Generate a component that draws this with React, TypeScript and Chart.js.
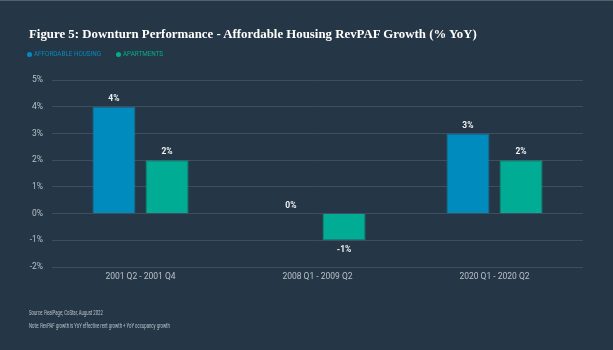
import React, { useEffect, useRef } from "react";
import { Chart, registerables } from "chart.js";

Chart.register(...registerables);

const categories = ["2001 Q2 - 2001 Q4", "2008 Q1 - 2009 Q2", "2020 Q1 - 2020 Q2"];
const affordableHousing = [4, 0, 3];
const apartments = [2, -1, 2];
const seriesNames = ["AFFORDABLE HOUSING", "APARTMENTS"];
const seriesColors = ["#008bbe", "#00ad94"];
const yTicks = [5, 4, 3, 2, 1, 0, -1, -2];

const BG = "#253746";

const valueLabels = {
  id: "valueLabels",
  afterDatasetsDraw(chart: any) {
    const ctx = chart.ctx;
    ctx.save();
    ctx.font = "bold 8.5px Roboto, 'Noto Sans', sans-serif";
    ctx.fillStyle = "#eef1f4";
    ctx.textAlign = "center";
    ctx.textBaseline = "middle";
    chart.data.datasets.forEach((ds: any, i: number) => {
      const meta = chart.getDatasetMeta(i);
      meta.data.forEach((bar: any, j: number) => {
        const v = ds.data[j];
        const y = v < 0 ? bar.y + 10 : bar.y - 8;
        ctx.fillText(v + "%", bar.x, y);
      });
    });
    ctx.restore();
  },
};

export default function App() {
  const ref = useRef<HTMLCanvasElement>(null);
  useEffect(() => {
    document.body.style.margin = "0";
    const chart = new Chart(ref.current!, {
      type: "bar",
      data: {
        labels: categories,
        datasets: [
          {
            label: seriesNames[0],
            data: affordableHousing,
            backgroundColor: seriesColors[0],
            borderColor: "#1d6f90",
            borderWidth: 1,
            categoryPercentage: 0.6,
            barPercentage: 0.81,
          },
          {
            label: seriesNames[1],
            data: apartments,
            backgroundColor: seriesColors[1],
            borderColor: "#158a7c",
            borderWidth: 1,
            categoryPercentage: 0.6,
            barPercentage: 0.81,
          },
        ],
      },
      options: {
        animation: false,
        responsive: false,
        layout: { padding: { top: 80, left: 0, right: 30, bottom: 60 } },
        plugins: {
          legend: { display: false },
          title: { display: false },
          tooltip: { enabled: false },
        },
        scales: {
          x: {
            grid: { display: false, drawTicks: false },
            border: { display: false },
            ticks: {
              color: "#b8c0c8",
              font: { size: 8.5, family: "Roboto, 'Noto Sans', sans-serif" },
              padding: 5,
            },
            afterFit: (s: any) => {
              s.height = 23;
            },
          },
          y: {
            min: -2,
            max: 5,
            afterBuildTicks: (s: any) => {
              s.ticks = yTicks.map((v) => ({ value: v }));
            },
            grid: { color: "#3e4e5c", drawTicks: false, lineWidth: 1 },
            border: { display: false },
            ticks: {
              color: "#b8c0c8",
              font: { size: 8.5, family: "Roboto, 'Noto Sans', sans-serif" },
              padding: 9,
              callback: (v: any) => v + "%",
            },
            afterFit: (s: any) => {
              s.width = 52;
            },
          },
        },
      },
      plugins: [valueLabels],
    });
    return () => chart.destroy();
  }, []);

  const legendLefts = [27, 116];

  return (
    <div style={{ position: "relative", width: 613, height: 350, background: BG, overflow: "hidden" }}>
      <div style={{ position: "absolute", left: 0, top: 0, width: 613, height: 1, background: "#56616c" }} />
      <canvas ref={ref} width={613} height={350} style={{ position: "absolute", left: 0, top: 0 }} />
      <div
        style={{
          position: "absolute",
          left: 29,
          top: 26,
          color: "#ffffff",
          fontFamily: "'Liberation Serif', serif",
          fontWeight: "bold",
          fontSize: 12.85,
          lineHeight: "16px",
          whiteSpace: "nowrap",
        }}
      >
        Figure 5: Downturn Performance - Affordable Housing RevPAF Growth (% YoY)
      </div>
      {seriesNames.map((n, i) => (
        <div
          key={n}
          style={{
            position: "absolute",
            left: legendLefts[i],
            top: 49,
            display: "flex",
            alignItems: "center",
            color: seriesColors[i],
            fontFamily: "Roboto, sans-serif",
            fontSize: 7.5,
            lineHeight: "10px",
            whiteSpace: "nowrap",
          }}
        >
          <span
            style={{
              display: "inline-block",
              width: 5,
              height: 5,
              borderRadius: "50%",
              background: seriesColors[i],
              marginRight: 2,
            }}
          />
          <span style={{ display: "inline-block", transform: "scaleX(0.84)", transformOrigin: "left center" }}>{n}</span>
        </div>
      ))}
      <div
        style={{
          position: "absolute",
          left: 29,
          top: 307,
          color: "#b8c0c8",
          fontFamily: "Roboto, sans-serif",
          fontSize: 7,
          lineHeight: "13px",
          whiteSpace: "nowrap",
          transform: "scaleX(0.61)",
          transformOrigin: "left top",
        }}
      >
        <div>Source: RealPage; CoStar, August 2022</div>
        <div>Note: RevPAF growth is YoY effective rent growth + YoY occupancy growth</div>
      </div>
    </div>
  );
}
